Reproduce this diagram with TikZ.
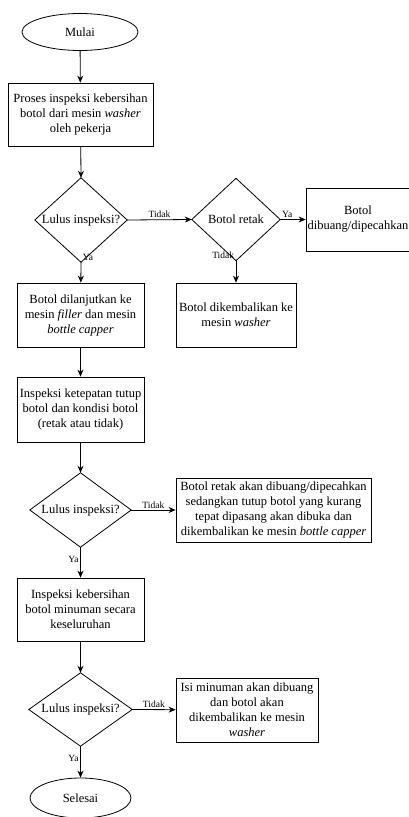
\documentclass[tikz,border=0pt]{standalone}
\usepackage{fontspec}
\setmainfont{Liberation Serif}
\usetikzlibrary{arrows.meta,shapes.geometric}

\begin{document}
\begin{tikzpicture}[
    x=1pt, y=-1pt,
    every node/.style={font=\fontsize{12.5}{15}\selectfont, align=center, inner sep=1pt},
    box/.style={rectangle, draw, line width=0.8pt},
    terminal/.style={ellipse, draw, line width=0.8pt},
    decision/.style={rectangle, inner sep=0pt},
    flow/.style={-{Stealth[length=7pt,width=6pt]}, line width=0.8pt},
    lbl/.style={font=\fontsize{9.5}{11}\selectfont, inner sep=1.5pt},
]
    \useasboundingbox (0,0) rectangle (409,817);

    \node[terminal, minimum width=116pt, minimum height=37pt] (mulai) at (80,32) {Mulai};
    \node[box, minimum width=145pt, minimum height=63pt] (proses) at (80.5,114.5) {Proses inspeksi kebersihan\\botol dari mesin \textit{washer}\\oleh pekerja};
    \node[decision, minimum width=92pt, minimum height=84pt] (lulusa) at (81,220) {Lulus inspeksi?};
    \node[decision, minimum width=88pt, minimum height=82pt] (retak) at (236,219.5) {Botol retak};
    \node[box, minimum width=104pt, minimum height=63pt] (buang) at (358,219.5) {Botol\\dibuang/dipecahkan};
    \node[box, minimum width=127pt, minimum height=64pt] (lanjut) at (80.5,315) {Botol dilanjutkan ke\\mesin \textit{filler} dan mesin\\\textit{bottle capper}};
    \node[box, minimum width=120pt, minimum height=64pt] (kembali) at (236,315) {Botol dikembalikan ke\\mesin \textit{washer}};
    \node[box, minimum width=127pt, minimum height=65pt] (tutup) at (80.5,409.5) {Inspeksi ketepatan tutup\\botol dan kondisi botol\\(retak atau tidak)};
    \node[decision, minimum width=101pt, minimum height=74pt] (lulusb) at (80.5,510) {Lulus inspeksi?};
    \node[box, minimum width=195pt, minimum height=64pt] (ulang) at (273.5,510) {Botol retak akan dibuang/dipecahkan\\sedangkan tutup botol yang kurang\\tepat dipasang akan dibuka dan\\dikembalikan ke mesin \textit{bottle capper}};
    \node[box, minimum width=127pt, minimum height=63pt] (bersih) at (80.5,609.5) {Inspeksi kebersihan\\botol minuman secara\\keseluruhan};
    \node[decision, minimum width=103pt, minimum height=73pt] (lulusc) at (80.5,709.5) {Lulus inspeksi?};
    \node[box, minimum width=142pt, minimum height=64pt] (isi) at (247,710) {Isi minuman akan dibuang\\dan botol akan\\dikembalikan ke mesin\\\textit{washer}};
    \node[terminal, minimum width=101pt, minimum height=40pt] (selesai) at (80.5,798) {Selesai};

    % belah ketupat keputusan
    \foreach \d in {lulusa,retak,lulusb,lulusc}
        \draw[line width=0.8pt] (\d.north) -- (\d.east) -- (\d.south) -- (\d.west) -- cycle;

    \draw[flow] (mulai) -- (proses);
    \draw[flow] (proses) -- (lulusa.north);
    \draw[flow] (lulusa.east) -- node[lbl, above] {Tidak} (retak.west);
    \draw[flow] (retak.east) -- node[lbl, at start, anchor=south west] {Ya} (buang);
    \draw[flow] (lulusa.south) -- node[lbl, at start, anchor=south west] {Ya} (lanjut);
    \draw[flow] (retak.south) -- node[lbl, at start, anchor=south east] {Tidak} (kembali);
    \draw[flow] (lanjut) -- (tutup);
    \draw[flow] (tutup) -- (lulusb.north);
    \draw[flow] (lulusb.east) -- node[lbl, above] {Tidak} (ulang);
    \draw[flow] (lulusb.south) -- node[lbl, pos=0.4, left] {Ya} (bersih);
    \draw[flow] (bersih) -- (lulusc.north);
    \draw[flow] (lulusc.east) -- node[lbl, above] {Tidak} (isi);
    \draw[flow] (lulusc.south) -- node[lbl, pos=0.4, left] {Ya} (selesai);
\end{tikzpicture}
\end{document}
